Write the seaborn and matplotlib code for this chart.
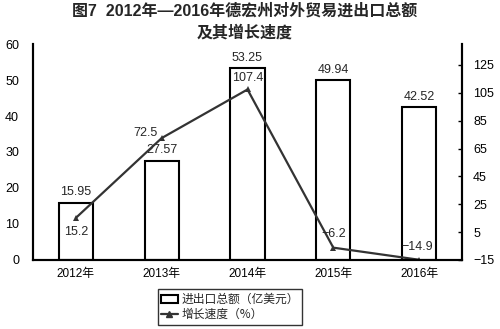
import matplotlib
matplotlib.use("Agg")
import matplotlib.pyplot as plt
import seaborn as sns
import pandas as pd
from matplotlib.patches import Patch
from matplotlib.lines import Line2D

years = ["2012年", "2013年", "2014年", "2015年", "2016年"]
totals = [15.95, 27.57, 53.25, 49.94, 42.52]
growth = [15.2, 72.5, 107.4, -6.2, -14.9]
growth_labels = ["15.2", "72.5", "107.4", "\u22126.2", "\u221214.9"]
left_ticks = [0, 10, 20, 30, 40, 50, 60]
right_ticks = [-15, 5, 25, 45, 65, 85, 105, 125]
title = "图7  2012年—2016年德宏州对外贸易进出口总额\n及其增长速度"
legend_labels = ["进出口总额（亿美元）", "增长速度（%）"]

sns.set_theme(style="white")
plt.rcParams['font.family'] = ['Liberation Sans', 'Noto Sans CJK SC', 'DejaVu Sans']
plt.rcParams['axes.unicode_minus'] = True

df = pd.DataFrame({"year": years, "total": totals, "growth": growth,
                   "pos": list(range(len(years)))})

fig = plt.figure(figsize=(5, 3.29), dpi=100)
ax = fig.add_axes([0.066, 0.21, 0.858, 0.656])

sns.barplot(data=df, x="year", y="total", ax=ax, color="white",
            edgecolor="black", linewidth=1.5, width=0.4, saturation=1)
ax.set_ylim(0, 60)
ax.set_xlim(-0.5, 4.5)
ax.set_yticks(left_ticks)
ax.set_xlabel("")
ax.set_ylabel("")
ax.tick_params(axis="y", length=0, labelsize=9, pad=10, colors="black")
ax.tick_params(axis="x", which="major", length=0, labelsize=8.5, pad=6, colors="black")
ax.set_xticks([0.5, 1.5, 2.5, 3.5], minor=True)
ax.tick_params(axis="x", which="minor", direction="in", length=3, width=1, color="black")
for s in ["left", "bottom", "right"]:
    ax.spines[s].set_color("black")
    ax.spines[s].set_linewidth(1.5)
ax.spines["top"].set_visible(False)

for i, v in enumerate(totals):
    ax.text(i, v + 1.2, f"{v:.2f}", ha="center", va="bottom", fontsize=9)

ax2 = ax.twinx()
sns.lineplot(data=df, x="pos", y="growth", ax=ax2, color="#333333",
             linewidth=1.6, marker="^", markersize=4, markeredgewidth=0)
ax2.set_ylim(-15, 140)
ax2.set_yticks(right_ticks)
ax2.set_ylabel("")
ax2.set_xlabel("")
ax2.set_xlim(-0.5, 4.5)
ax2.tick_params(axis="y", direction="in", length=3, width=1, color="black",
                labelsize=9, pad=8, colors="black")
for s in ["left", "bottom", "right"]:
    ax2.spines[s].set_color("black")
    ax2.spines[s].set_linewidth(1.5)
ax2.spines["top"].set_visible(False)

offsets = [(0, -10, "center", "center"), (-0.05, 4, "right", "center"),
           (0, 4, "center", "bottom"), (0.01, 9.5, "center", "center"),
           (-0.02, 9, "center", "center")]
for i, (g, lab) in enumerate(zip(growth, growth_labels)):
    dx, dy, ha, va = offsets[i]
    ax2.text(i + dx, g + dy, lab, ha=ha, va=va, fontsize=9)

fig.suptitle(title, fontsize=11.5, fontweight="bold", x=0.49, y=0.99,
             linespacing=1.5, family=['Liberation Sans', 'Noto Sans CJK SC'])

handles = [Patch(facecolor="white", edgecolor="black", linewidth=1.5),
           Line2D([0], [0], color="#333333", lw=1.6, marker="^", markersize=4)]
leg = fig.legend(handles, legend_labels, loc="center", bbox_to_anchor=(0.46, 0.067),
                 prop={"family": ["Noto Sans CJK SC"], "size": 8.5},
                 frameon=True, fancybox=False, handlelength=1.4,
                 handletextpad=0.3, borderpad=0.3, labelspacing=0.2)
leg.get_frame().set_edgecolor("black")
leg.get_frame().set_linewidth(1.0)

fig.savefig("out.png", dpi=100)
